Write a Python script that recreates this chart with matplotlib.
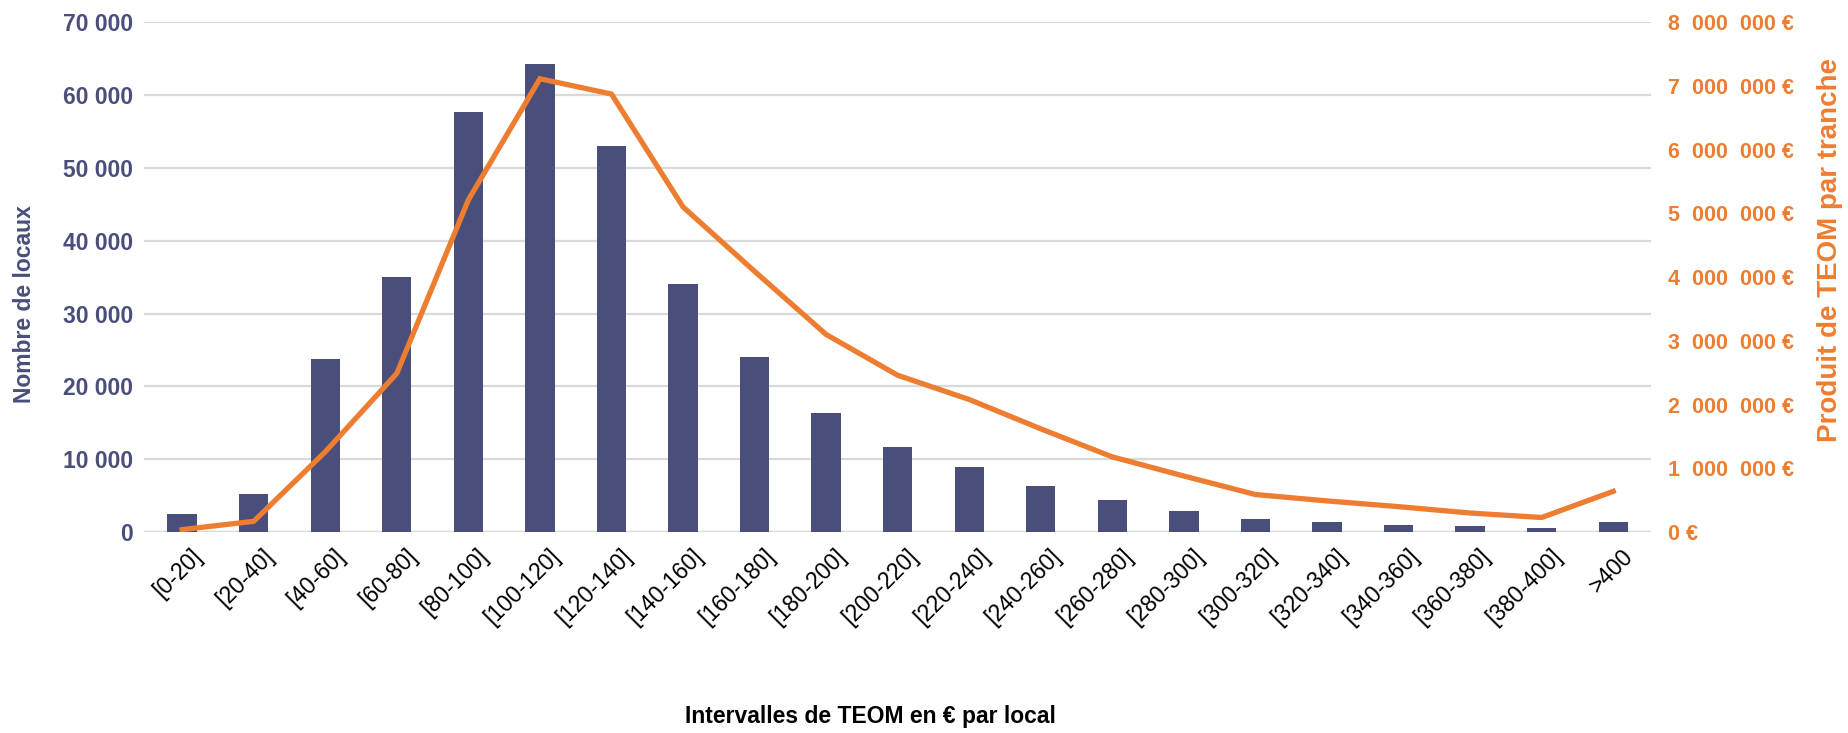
import numpy as np
import matplotlib
matplotlib.use('Agg')
from matplotlib import pyplot as plt
from matplotlib import font_manager

plt.rcParams['font.family'] = ['Liberation Sans', 'DejaVu Sans']

# Données
tranches = ['[0-20]', '[20-40]', '[40-60]', '[60-80]', '[80-100]', '[100-120]', '[120-140]',
            '[140-160]', '[160-180]', '[180-200]', '[200-220]', '[220-240]', '[240-260]',
            '[260-280]', '[280-300]', '[300-320]', '[320-340]', '[340-360]', '[360-380]',
            '[380-400]', '>400']
nb_locaux = [2450, 5200, 23800, 35000, 57600, 64300, 53000, 34100, 24000, 16400, 11750,
             9000, 6400, 4350, 2950, 1850, 1450, 1050, 780, 620, 1330]
produit_teom = [40000, 170000, 1260000, 2490000, 5210000, 7110000, 6870000, 5100000,
                4090000, 3100000, 2460000, 2080000, 1620000, 1180000, 880000, 590000,
                490000, 400000, 300000, 230000, 640000]

bleu = '#494e7a'
orange = '#ed7d31'
gris = '#d9d9d9'

narrow = 'Liberation Sans Narrow'
names = {f.name for f in font_manager.fontManager.ttflist}
if narrow not in names:
    narrow = 'Liberation Sans'

fig = plt.figure(figsize=(18.49, 7.33), dpi=100)
ax = fig.add_axes([0.078, 0.274, 0.815, 0.696])
x = np.arange(len(tranches))

ax.bar(x, nb_locaux, width=0.41, color=bleu, zorder=3)
ax.set_xlim(-0.53, len(tranches) - 0.47)
ax.set_ylim(0, 70000)
ax.set_yticks(np.arange(0, 70001, 10000))
ax.set_yticklabels(['{:,}'.format(v).replace(',', ' ') for v in range(0, 70001, 10000)],
                   fontsize=16.5, fontweight='bold', color=bleu)
ax.grid(axis='y', color=gris, lw=1.6, zorder=0)
ax.axhline(0, color=gris, lw=2.5, zorder=2)
for s in ax.spines.values():
    s.set_visible(False)
ax.tick_params(axis='both', length=0)
ax.tick_params(axis='y', pad=8)
ax.set_xticks(x + 0.12)
ax.set_xticklabels(tranches, rotation=45, ha='right', rotation_mode='anchor',
                   fontsize=16.5, family=[narrow, 'DejaVu Sans'], color='black')
ax.tick_params(axis='x', pad=9)

fig.text(0.0135, 0.585, 'Nombre de locaux', rotation=90, ha='center', va='center',
         fontsize=16.5, fontweight='bold', color=bleu)

ax2 = ax.twinx()
ax2.plot(x, produit_teom, color=orange, lw=3.8, solid_joinstyle='miter', zorder=4)
ax2.set_ylim(0, 8000000)
ax2.set_yticks(np.arange(0, 8000001, 1000000))
labels2 = ['0 €'] + ['{}  000  000 €'.format(v) for v in range(1, 9)]
ax2.set_yticklabels(labels2, fontsize=15.5, fontweight='bold', color=orange,
                    family=[narrow, 'DejaVu Sans'])
ax2.tick_params(axis='y', length=0, pad=12)
for s in ax2.spines.values():
    s.set_visible(False)

fig.text(0.9895, 0.659, 'Produit de TEOM par tranche', rotation=90, ha='center',
         va='center', fontsize=20, fontweight='bold', color=orange)

fig.text(0.4705, 0.022, 'Intervalles de TEOM en € par local', ha='center', va='center',
         fontsize=16.5, fontweight='bold', family=[narrow, 'DejaVu Sans'])

plt.savefig('out.png', dpi=100)
